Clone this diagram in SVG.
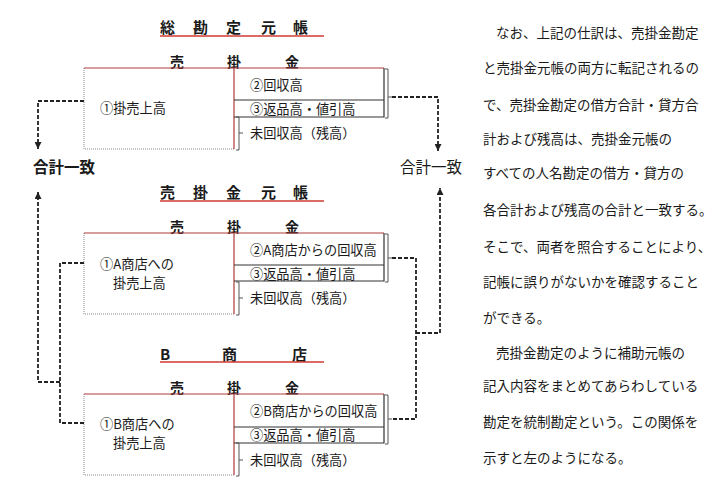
<svg xmlns="http://www.w3.org/2000/svg" width="725" height="492" viewBox="0 0 725 492">
<defs>
<style>
text{font-family:"Noto Sans CJK JP","Noto Sans",sans-serif;fill:#1a1a1a;}
.t{font-size:15px;font-weight:bold;}
.h{font-size:14px;font-weight:bold;}
.l{font-size:13.2px;}
.b{font-size:13.5px;}
.g{font-size:15.5px;}
.ul{stroke:#d23a32;stroke-width:1.6;fill:none;}
.red{stroke:#b03a3a;stroke-width:1.2;fill:none;}
.dot{stroke:#888;stroke-width:1;stroke-dasharray:1 1;fill:none;}
.dk{stroke:#333;stroke-width:1.2;fill:none;}
.br{stroke:#555;stroke-width:1;fill:none;}
.dash{stroke:#222;stroke-width:1.8;stroke-dasharray:4 2;fill:none;}
</style>
<marker id="ah" markerUnits="userSpaceOnUse" markerWidth="7" markerHeight="7" refX="7" refY="3.5" orient="auto">
<path d="M0,0 L7,3.5 L0,7 z" fill="#222"/>
</marker>
</defs>

<g id="general-ledger">
<text class="t" x="160" y="33">総</text><text class="t" x="193" y="33">勘</text><text class="t" x="226" y="33">定</text><text class="t" x="261" y="33">元</text><text class="t" x="293" y="33">帳</text>
<line class="ul" x1="160" y1="36" x2="324" y2="36"/>
<text class="h" x="170" y="67">売</text><text class="h" x="227" y="67">掛</text><text class="h" x="285" y="67">金</text>
<path class="dot" d="M84,68 V149 H234"/>
<path class="red" d="M84,68 H384 M234,68 V149"/>
<path class="dk" d="M384,68 V117 H234 M234,100 H384"/>
<path class="br" d="M385,69 H388 V118 H385 M388,97 H392"/>
<path class="br" d="M236,117 H239 V150 H236 M239,133 H243"/>
<text class="l" x="100" y="113">①掛売上高</text>
<text class="l" x="250" y="90">②回収高</text>
<text class="l" x="250" y="114">③返品高・値引高</text>
<text class="l" x="250" y="138">未回収高（残高）</text>
</g>

<g id="match-left"><text class="g" x="33" y="173" font-weight="bold">合計一致</text></g>
<g id="match-right"><text class="g" x="400" y="173">合計一致</text></g>

<g id="ledger-A">
<text class="t" x="160" y="198">売</text><text class="t" x="193" y="198">掛</text><text class="t" x="226" y="198">金</text><text class="t" x="261" y="198">元</text><text class="t" x="293" y="198">帳</text>
<line class="ul" x1="160" y1="201" x2="324" y2="201"/>
<text class="h" x="170" y="232">売</text><text class="h" x="227" y="232">掛</text><text class="h" x="285" y="232">金</text>
<path class="dot" d="M84,233 V314 H234"/>
<path class="red" d="M84,233 H384 M234,233 V314"/>
<path class="dk" d="M384,233 V281 H234 M234,265 H384"/>
<path class="br" d="M385,234 H388 V282 H385 M388,258 H392"/>
<path class="br" d="M236,282 H239 V315 H236 M239,298 H243"/>
<text class="l" x="100" y="269">①A商店への</text>
<text class="l" x="113" y="288">掛売上高</text>
<text class="l" x="250" y="255">②A商店からの回収高</text>
<text class="l" x="250" y="279">③返品高・値引高</text>
<text class="l" x="250" y="303">未回収高（残高）</text>
</g>

<g id="ledger-B">
<text class="t" x="160" y="360">B</text><text class="t" x="222" y="360">商</text><text class="t" x="292" y="360">店</text>
<line class="ul" x1="160" y1="362" x2="324" y2="362"/>
<text class="h" x="170" y="393">売</text><text class="h" x="227" y="393">掛</text><text class="h" x="285" y="393">金</text>
<path class="dot" d="M84,394 V475 H234"/>
<path class="red" d="M84,394 H384 M234,394 V475"/>
<path class="dk" d="M384,394 V443 H234 M234,427 H384"/>
<path class="br" d="M385,395 H388 V444 H385 M388,419 H392"/>
<path class="br" d="M236,443 H239 V476 H236 M239,460 H243"/>
<text class="l" x="100" y="429">①B商店への</text>
<text class="l" x="113" y="448">掛売上高</text>
<text class="l" x="250" y="416">②B商店からの回収高</text>
<text class="l" x="250" y="440">③返品高・値引高</text>
<text class="l" x="250" y="465">未回収高（残高）</text>
</g>

<g id="connectors">
<path class="dash" d="M84,101 H38 V149" marker-end="url(#ah)"/>
<path class="dash" d="M392,97 H438 V151" marker-end="url(#ah)"/>
<path class="dash" d="M84,263 H60 V423 H84"/>
<path class="dash" d="M60,382 H38 V192" marker-end="url(#ah)"/>
<path class="dash" d="M392,258 H416 V419 H392"/>
<path class="dash" d="M416,333 H440 V188" marker-end="url(#ah)"/>
</g>

<g id="explanation">
<text class="b" x="496" y="38">なお、上記の仕訳は、売掛金勘定</text>
<text class="b" x="483" y="73">と売掛金元帳の両方に転記されるの</text>
<text class="b" x="483" y="110">で、売掛金勘定の借方合計・貸方合</text>
<text class="b" x="483" y="144">計および残高は、売掛金元帳の</text>
<text class="b" x="483" y="178">すべての人名勘定の借方・貸方の</text>
<text class="b" x="483" y="215">各合計および残高の合計と一致する。</text>
<text class="b" x="483" y="252">そこで、両者を照合することにより、</text>
<text class="b" x="483" y="287">記帳に誤りがないかを確認すること</text>
<text class="b" x="483" y="323">ができる。</text>
<text class="b" x="496" y="358">売掛金勘定のように補助元帳の</text>
<text class="b" x="483" y="391">記入内容をまとめてあらわしている</text>
<text class="b" x="483" y="427">勘定を統制勘定という。この関係を</text>
<text class="b" x="483" y="463">示すと左のようになる。</text>
</g>
</svg>
